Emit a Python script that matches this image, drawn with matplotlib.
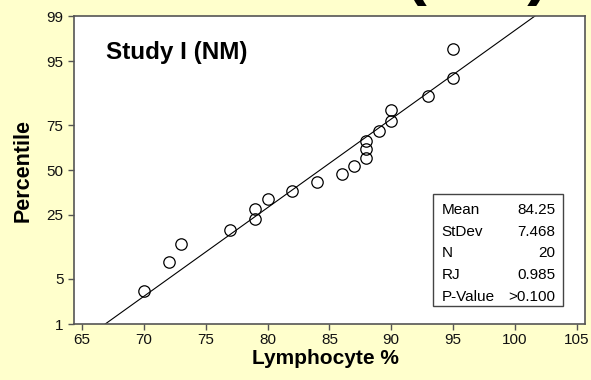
import matplotlib
matplotlib.use("Agg")
import matplotlib.pyplot as plt
from matplotlib.patches import Rectangle
from statistics import NormalDist
import numpy as np

plt.rcParams["font.family"] = ["Liberation Sans", "DejaVu Sans"]

# Lymphocyte % observations (Study I, NM group)
lymphocyte = [70, 72, 73, 77, 79, 79, 80, 82, 84, 86,
              87, 88, 88, 88, 89, 90, 90, 93, 95, 95]

percentile_ticks = [1, 5, 25, 50, 75, 95, 99]
x_ticks = [65, 70, 75, 80, 85, 90, 95, 100, 105]

stat_labels = ["Mean", "StDev", "N", "RJ", "P-Value"]
stat_values = ["84.25", "7.468", "20", "0.985", ">0.100"]

nd = NormalDist()
data = np.sort(np.array(lymphocyte, dtype=float))
n = len(data)
mean = data.mean()
sd = data.std(ddof=1)

# median-rank plotting positions on the normal probability scale
ranks = np.arange(1, n + 1)
z_pts = np.array([nd.inv_cdf((r - 0.3) / (n + 0.4)) for r in ranks])

bg = "#FFFFCC"
fig = plt.figure(figsize=(5.91, 3.80), dpi=100, facecolor=bg)
ax = fig.add_axes([74 / 591, 1 - 324 / 380, (585 - 74) / 591, (324 - 16) / 380])
ax.set_facecolor("white")

z_lo = nd.inv_cdf(0.01)
z_hi = nd.inv_cdf(0.99)

# fitted normal line: x = mean + z * sd
z_line = np.array([z_lo, z_hi])
ax.plot(mean + z_line * sd, z_line, color="black", lw=0.8, zorder=2)

ax.plot(data, z_pts, linestyle="none", marker="o", ms=8.2,
        mfc="none", mec="black", mew=0.9, zorder=3)

ax.set_xlim(64.35, 105.67)
ax.set_ylim(z_lo, z_hi)
ax.set_xticks(x_ticks)
ax.set_xticklabels([str(t) for t in x_ticks])
ax.set_yticks([nd.inv_cdf(p / 100) for p in percentile_ticks])
ax.set_yticklabels([str(p) for p in percentile_ticks])

for s in ax.spines.values():
    s.set_color("#555555")
    s.set_linewidth(1.2)
ax.tick_params(axis="both", direction="out", length=4.5, width=1,
               color="#555555", labelsize=11, labelcolor="#111111")
ax.tick_params(axis="x", pad=2)
ax.tick_params(axis="y", pad=3)

fig.text(106 / 591, 1 - 53 / 380, "Study I (NM)", fontsize=17.5,
         fontweight="bold", ha="left", va="center")

fig.text(23 / 591, 1 - 171 / 380, "Percentile", fontsize=15.5,
         fontweight="bold", rotation=90, ha="center", va="center")
fig.text(325 / 591, 1 - 358.5 / 380, "Lymphocyte %", fontsize=15,
         fontweight="bold", ha="center", va="center")

# statistics box
bx0, bx1, by0, by1 = 433, 563, 194, 306
fig.patches.append(Rectangle((bx0 / 591, 1 - by1 / 380),
                             (bx1 - bx0) / 591, (by1 - by0) / 380,
                             transform=fig.transFigure, facecolor="white",
                             edgecolor="#444444", lw=1.0, zorder=5))
row_y = [210, 231.7, 253, 275, 296.7]
for lab, val, yy in zip(stat_labels, stat_values, row_y):
    fig.text(441.5 / 591, 1 - yy / 380, lab, fontsize=11,
             ha="left", va="center", zorder=6)
    fig.text(555.5 / 591, 1 - yy / 380, val, fontsize=11,
             ha="right", va="center", zorder=6)

# heading above the plot, mostly outside the visible area
fig.text(477 / 591, 1 + 7 / 380, "(NM)", fontsize=47, fontweight="bold",
         ha="center", va="baseline")

fig.savefig("out.png", dpi=100, facecolor=bg)
